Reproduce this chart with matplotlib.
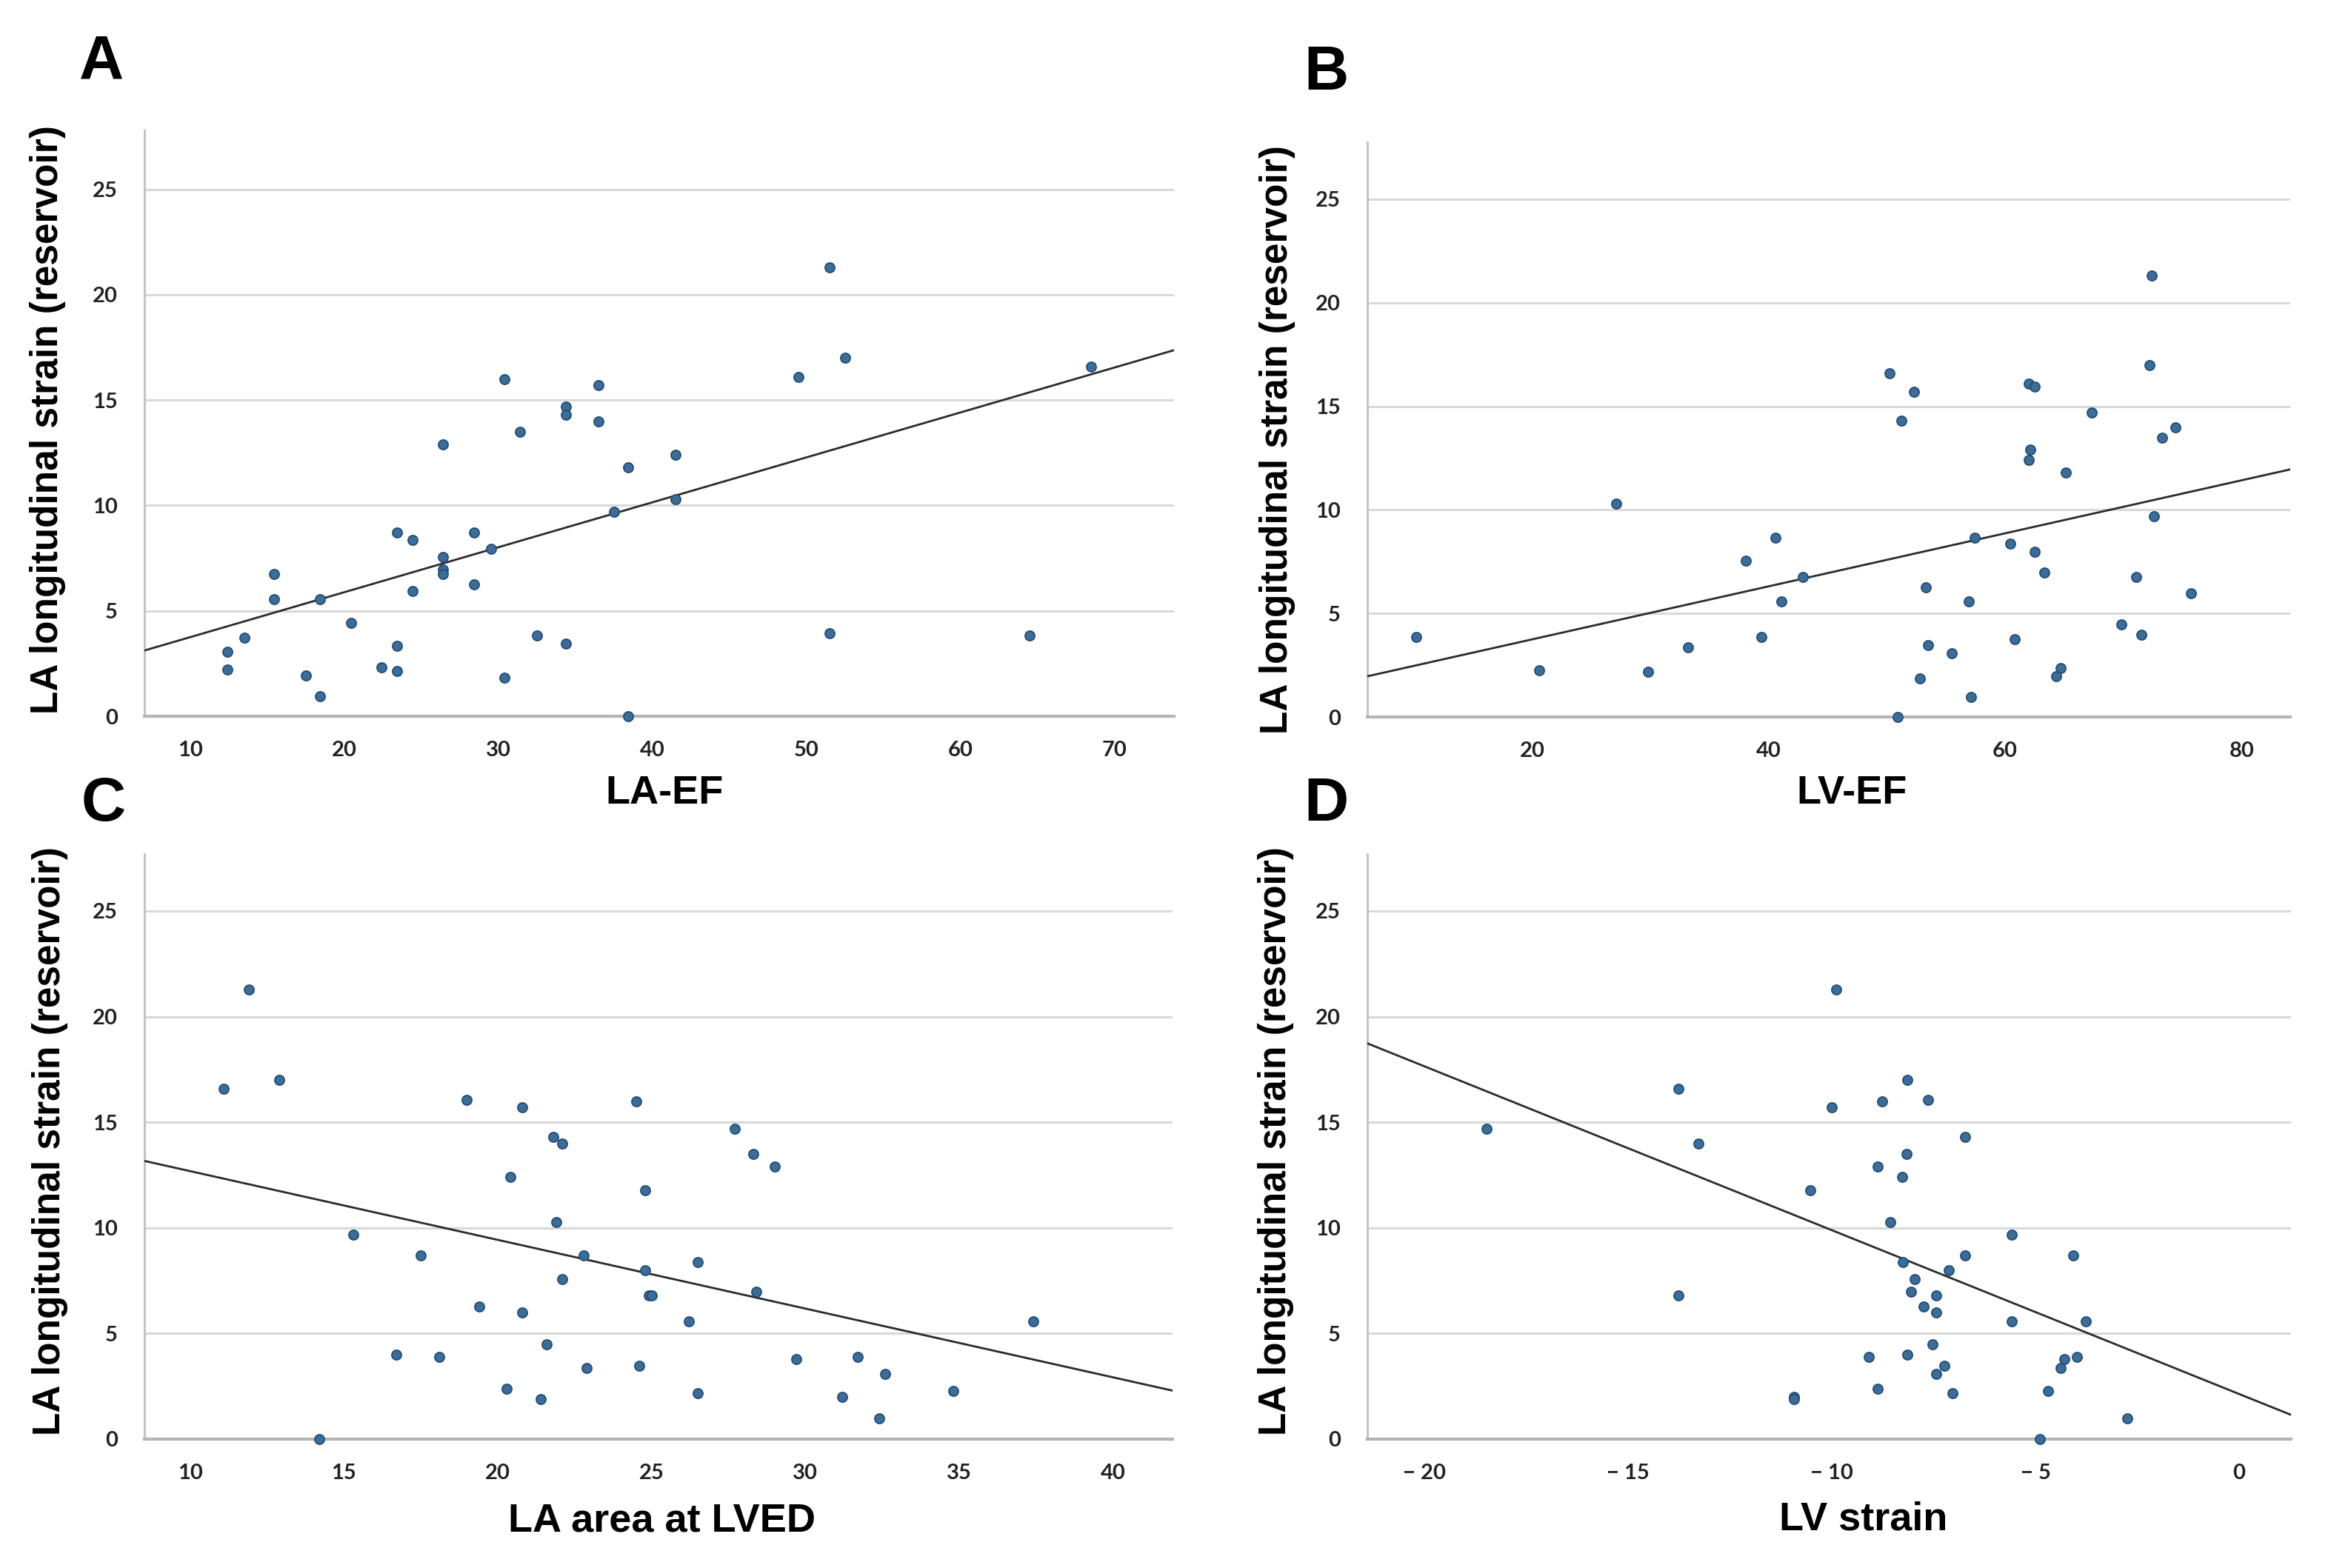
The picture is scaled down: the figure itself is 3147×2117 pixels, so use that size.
import numpy as np
import matplotlib
matplotlib.use("Agg")
import matplotlib.pyplot as plt

plt.rcParams['font.family'] = ['Liberation Sans', 'DejaVu Sans']

# values
# panel A: LA-EF vs LA strain
a_x = [51.5, 52.5, 49.5, 68.5, 30.4, 36.5, 34.4, 34.4, 36.5, 31.4, 26.4, 41.5, 38.4, 41.5,
       37.5, 23.4, 28.4, 24.4, 29.5, 26.4, 26.4, 26.4, 15.4, 28.4, 24.4, 15.4, 18.4, 20.4,
       51.5, 64.5, 32.5, 13.5, 34.4, 23.4, 12.4, 12.4, 22.4, 23.4, 17.5, 30.4, 18.4, 38.4]
a_y = [21.3, 17.0, 16.1, 16.6, 16.0, 15.7, 14.7, 14.3, 14.0, 13.5, 12.9, 12.4, 11.8, 10.3,
       9.7, 8.7, 8.7, 8.35, 7.95, 7.55, 6.96, 6.76, 6.76, 6.24, 5.95, 5.55, 5.55, 4.43,
       3.94, 3.84, 3.84, 3.74, 3.44, 3.34, 3.05, 2.23, 2.33, 2.13, 1.93, 1.83, 0.94, 0.0]

# panel B: LV-EF
b_x = [72.4, 72.2, 50.2, 62.0, 62.5, 52.3, 67.3, 51.2, 74.4, 73.3, 62.1, 62.0, 65.1, 27.1,
       72.6, 40.6, 57.4, 60.4, 62.5, 38.1, 63.3, 42.9, 71.1, 53.3, 75.7, 41.1, 56.9, 69.8,
       71.5, 10.2, 39.4, 60.8, 53.5, 33.2, 55.5, 64.7, 20.6, 29.8, 64.3, 52.8, 57.1, 50.9]
b_y = [21.3, 17.0, 16.6, 16.1, 15.95, 15.7, 14.7, 14.3, 14.0, 13.5, 12.9, 12.4, 11.8, 10.3,
       9.7, 8.67, 8.67, 8.37, 7.96, 7.56, 6.96, 6.75, 6.75, 6.25, 5.97, 5.57, 5.57, 4.46,
       3.96, 3.88, 3.88, 3.75, 3.48, 3.35, 3.07, 2.37, 2.27, 2.17, 1.97, 1.86, 0.96, 0.0]

# panel C: LA area at LVED
c_x = [11.9, 11.1, 12.9, 19.0, 24.5, 20.8, 27.7, 21.8, 22.1, 28.3, 29.0, 20.4, 24.8, 21.9,
       15.3, 17.5, 22.8, 26.5, 24.8, 22.1, 28.4, 24.9, 25.0, 19.4, 20.8, 26.2, 37.4, 21.6,
       16.7, 18.1, 29.7, 31.7, 24.6, 22.9, 32.6, 20.3, 34.8, 26.5, 31.2, 21.4, 32.4, 14.2]
c_y = [21.28, 16.6, 17.0, 16.07, 15.98, 15.69, 14.68, 14.3, 13.99, 13.51, 12.91, 12.4, 11.78, 10.27,
       9.69, 8.69, 8.69, 8.37, 7.99, 7.58, 6.98, 6.79, 6.79, 6.29, 6.0, 5.59, 5.59, 4.49,
       3.98, 3.89, 3.79, 3.89, 3.48, 3.38, 3.09, 2.38, 2.28, 2.18, 1.99, 1.9, 0.98, 0.0]

# panel D: LV strain
d_x = [-9.9, -13.77, -8.14, -8.76, -7.64, -10.0, -18.48, -6.73, -13.27, -8.16, -8.87, -8.27,
       -10.52, -8.56, -5.59, -4.07, -6.73, -8.25, -7.13, -7.96, -13.77, -8.05, -7.44, -7.75,
       -7.44, -5.59, -3.76, -7.53, -9.09, -8.14, -3.98, -4.29, -4.38, -7.24, -7.44, -8.87,
       -4.69, -7.04, -10.93, -10.93, -2.75, -4.89]
d_y = [21.28, 16.6, 16.99, 15.98, 16.07, 15.69, 14.68, 14.3, 13.99, 13.51, 12.91, 12.4,
       11.78, 10.27, 9.69, 8.69, 8.69, 8.37, 7.99, 7.58, 6.79, 6.98, 6.79, 6.29,
       6.0, 5.59, 5.59, 4.49, 3.89, 3.98, 3.89, 3.79, 3.38, 3.48, 3.09, 2.38,
       2.28, 2.18, 1.99, 1.9, 0.98, 0.0]

# fitted lines as drawn in the figure (intercept, slope)
fit_a = (1.63, 0.213)
fit_b = (1.19, 0.128)
fit_c = (15.94, -0.3254)
fit_d = (2.135, -0.7756)

y_ticks = [0, 5, 10, 15, 20, 25]
y_label = "LA longitudinal strain (reservoir)"

fig = plt.figure(figsize=(31.47, 21.17), dpi=100)

panels = [
    # letter, rect, x, y, fit, xlim, ylim, xticks, xticklabels, xlabel, label pos, letter pos
    ("A", [0.062, 0.5432, 0.4417, 0.3737], a_x, a_y, fit_a, (7.0, 73.9), (0, 27.8),
     [10, 20, 30, 40, 50, 60, 70], None, "LA-EF", (0.505, -0.100), (-0.076, 0.506), (0.0435, 0.96)),
    ("B", [0.5866, 0.5427, 0.3959, 0.3666], b_x, b_y, fit_b, (6.07, 84.1), (0, 27.75),
     [20, 40, 60, 80], None, "LV-EF", (0.525, -0.101), (-0.078, 0.482), (0.569, 0.953)),
    ("C", [0.062, 0.0822, 0.441, 0.3732], c_x, c_y, fit_c, (8.52, 41.93), (0, 27.7),
     [10, 15, 20, 25, 30, 35, 40], None, "LA area at LVED", (0.503, -0.108), (-0.074, 0.509), (0.0445, 0.487)),
    ("D", [0.5866, 0.0822, 0.3962, 0.3732], d_x, d_y, fit_d, (-21.4, 1.27), (0, 27.7),
     [-20, -15, -10, -5, 0], ["\u2212 20", "\u2212 15", "\u2212 10", "\u2212 5", "0"],
     "LV strain", (0.537, -0.106), (-0.0795, 0.509), (0.569, 0.487)),
]

for (letter, rect, xs, ys, fit, xlim, ylim, xticks, xticklabels, xlabel,
     xlab_pos, ylab_pos, letter_pos) in panels:
    ax = fig.add_axes(rect)
    ax.set_xlim(*xlim)
    ax.set_ylim(*ylim)

    # horizontal gridlines only
    ax.yaxis.grid(True, color='#d9d9d9', linewidth=2.2)
    ax.set_axisbelow(True)
    for side in ['top', 'right']:
        ax.spines[side].set_visible(False)
    ax.spines['left'].set_color('#c4c4c4')
    ax.spines['left'].set_linewidth(2.2)
    ax.spines['bottom'].set_color('#b5b5b5')
    ax.spines['bottom'].set_linewidth(3.0)

    # regression line
    lx = np.array(xlim)
    ax.plot(lx, fit[0] + fit[1] * lx, color='#2b2b2b', linewidth=2.0, zorder=3)

    # points
    ax.scatter(xs, ys, s=90, color='#3a6d99', edgecolors='#1f4a72', linewidths=1.2,
               zorder=4, clip_on=False)

    ax.set_xticks(xticks)
    if xticklabels is not None:
        ax.set_xticklabels(xticklabels)
    ax.set_yticks(y_ticks)
    ax.tick_params(length=0, labelsize=21, colors='#222222')
    ax.tick_params(axis='x', pad=24)
    ax.tick_params(axis='y', pad=26)
    for lab in ax.get_xticklabels() + ax.get_yticklabels():
        lab.set_fontfamily(['Lato', 'DejaVu Sans'])
        lab.set_fontweight('bold')

    ax.set_xlabel(xlabel, fontsize=39, fontweight='bold')
    ax.xaxis.set_label_coords(*xlab_pos)
    ax.set_ylabel(y_label, fontsize=37, fontweight='bold')
    ax.yaxis.set_label_coords(*ylab_pos)

    fig.text(letter_pos[0], letter_pos[1], letter, fontsize=60, fontweight='bold',
             ha='center', va='center')

fig.savefig("out.png", dpi=100, facecolor='white')
